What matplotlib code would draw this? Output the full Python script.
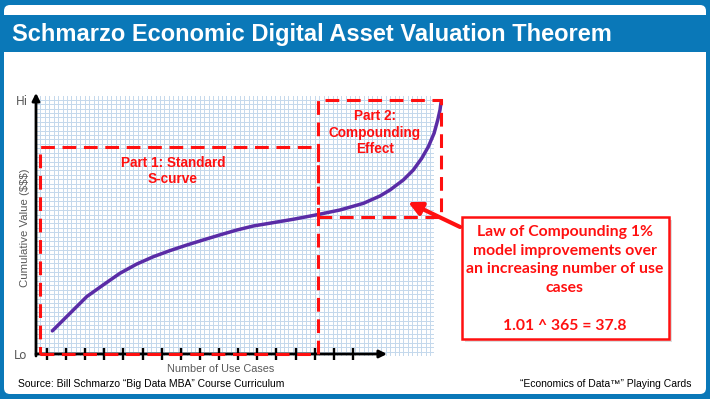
import matplotlib.pyplot as plt
from matplotlib.patches import Rectangle, FancyBboxPatch

# chart data (x = number of use cases, y = cumulative value, 0 = Lo, 100 = Hi)
use_case_ticks = list(range(1, 18))
curve_x = [1.28, 2.20, 3.08, 3.94, 4.82, 5.69, 6.56, 7.43, 8.31, 9.17, 10.05, 10.92,
           11.79, 12.66, 13.92, 15.17, 16.32, 17.54, 18.41, 18.94, 19.63, 20.15,
           20.59, 20.94, 21.24, 21.43, 21.55, 21.60]
curve_y = [9.1, 16.0, 22.6, 27.2, 31.8, 35.4, 38.3, 40.7, 42.9, 44.9, 46.9, 48.8,
           50.4, 51.5, 53.1, 54.9, 56.7, 59.3, 62.2, 64.6, 68.5, 72.4,
           77.0, 81.6, 86.9, 92.1, 96.1, 98.9]
value_labels = ['Lo', 'Hi']
value_ticks = [0, 100]

# the two regions (x0, x1, y0, y1)
part1 = (0.63, 15.15, 0, 81.5)
part2 = (15.15, 21.6, 53.8, 100)

BLUE = '#0a78b8'
RED = '#ff1010'
GREY = '#595959'

fig = plt.figure(figsize=(7.1, 3.99), dpi=100)
fig.patch.set_facecolor(BLUE)

# background card, drawn in pixel units
bg = fig.add_axes([0, 0, 1, 1])
bg.set_xlim(0, 710)
bg.set_ylim(399, 0)
bg.axis('off')
bg.add_patch(FancyBboxPatch((4, 5), 702, 389, boxstyle='round,pad=0,rounding_size=6',
                            facecolor='white', edgecolor='none'))
bg.add_patch(Rectangle((0, 15), 710, 37, facecolor=BLUE, edgecolor='none'))
bg.text(12, 34, 'Schmarzo Economic Digital Asset Valuation Theorem', color='white',
        fontsize=17, fontweight='bold', family='Liberation Sans', va='center', ha='left')

bg.text(18, 384, 'Source: Bill Schmarzo \u201cBig Data MBA\u201d Course Curriculum',
        fontsize=7.5, family='Liberation Sans', va='center', ha='left', color='black')
bg.text(691, 384, '\u201cEconomics of Data\u2122\u201d Playing Cards',
        fontsize=7.5, family='Liberation Sans', va='center', ha='right', color='black')
bg.text(221, 369, 'Number of Use Cases', fontsize=7.8, family='Liberation Sans', color=GREY,
        ha='center', va='center')
bg.text(25, 228, 'Cumulative Value ($$$)', fontsize=8.2, family='Liberation Sans', color=GREY,
        ha='center', va='center', rotation=90)

# callout box
bg.add_patch(Rectangle((465, 220), 207, 122, facecolor='#d0d0d0', edgecolor='none', alpha=0.7))
bg.add_patch(Rectangle((462, 217), 207, 122, facecolor='white', edgecolor=RED, lw=1.8))
bg.text(565, 260, 'Law of Compounding 1%\nmodel improvements over\nan increasing number of use\ncases',
        color=RED, fontsize=11.3, fontweight='bold', family='Lato', ha='center', va='center',
        linespacing=1.4)
bg.text(565, 326, '1.01 ^ 365 = 37.8', color=RED, fontsize=11.3, fontweight='bold',
        family='Lato', ha='center', va='center')

# plot on graph paper
ax = fig.add_axes([36 / 710, 43 / 399, 398 / 710, 260.5 / 399])
ax.set_facecolor('none')
xmin, xmax = 0.425, 21.236
ymin, ymax = -0.79, 101.77
ax.set_xlim(xmin, xmax)
ax.set_ylim(ymin, ymax)
for s in ax.spines.values():
    s.set_color('none')
ax.spines['bottom'].set_position(('data', 0))

gx = xmin
while gx <= xmax + 1e-6:
    ax.axvline(gx, color='#c4d8ec', lw=0.7, zorder=0)
    gx += 0.2315
gy = ymin
while gy <= ymax + 1e-6:
    ax.axhline(gy, color='#c4d8ec', lw=0.7, zorder=0)
    gy += 1.74

ax.set_xticks(use_case_ticks)
ax.tick_params(axis='x', direction='inout', length=9, width=1.7, color='black', labelbottom=False)
ax.set_yticks(value_ticks)
ax.set_yticklabels(value_labels)
ax.tick_params(axis='y', length=0, pad=6, labelsize=8.5, labelcolor=GREY)

# axis arrows
arrow_kw = dict(arrowstyle='-|>', lw=2, color='black', mutation_scale=11, shrinkA=0, shrinkB=0)
ax.annotate('', xy=(xmin, 102.8), xytext=(xmin, ymin), arrowprops=arrow_kw, annotation_clip=False)
ax.annotate('', xy=(18.78, 0), xytext=(xmin, 0), arrowprops=arrow_kw, annotation_clip=False)

ax.plot(curve_x, curve_y, color='#5a2ca6', lw=2.5, solid_capstyle='round', zorder=3, clip_on=False)

for x0, x1, y0, y1 in (part1, part2):
    ax.add_patch(Rectangle((x0, y0), x1 - x0, y1 - y0, fill=False, edgecolor=RED, lw=2.2,
                           linestyle=(0, (4.5, 2.5)), zorder=4, clip_on=False))

ax.text(7.59, 71.9, 'Part 1: Standard\nS-curve', color=RED, fontsize=9.8, fontweight='bold',
        family='Liberation Sans', ha='center', va='center', linespacing=1.2)
ax.text(18.15, 87.2, 'Part 2:\nCompounding\nEffect', color=RED, fontsize=9.8, fontweight='bold',
        family='Liberation Sans', ha='center', va='center', linespacing=1.2)

ax.annotate('', xy=(19.88, 59.8), xytext=(22.6, 50.0),
            arrowprops=dict(arrowstyle='-|>', lw=3, color=RED, mutation_scale=20,
                            shrinkA=0, shrinkB=0), annotation_clip=False)

fig.savefig('out.png', dpi=100, facecolor=BLUE)
